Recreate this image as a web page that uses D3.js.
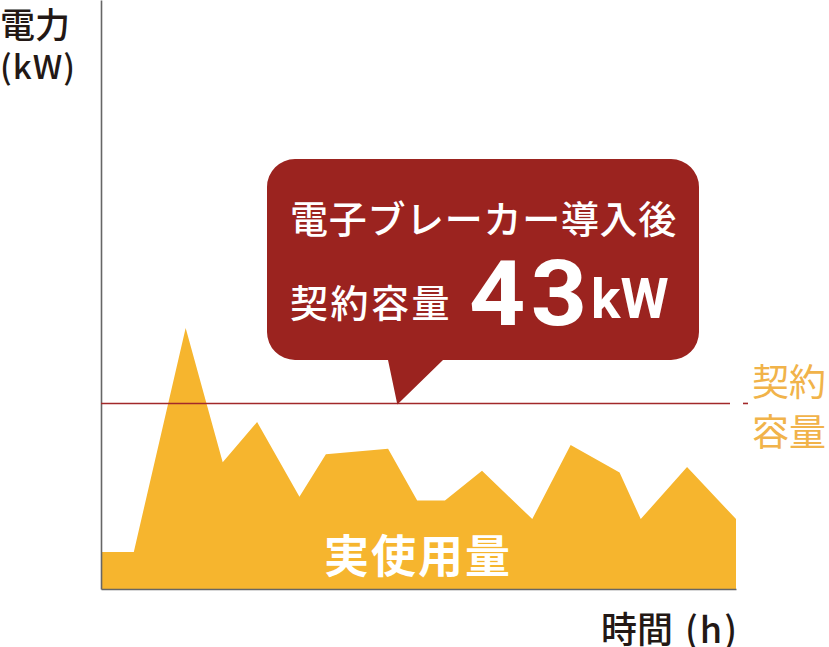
<!DOCTYPE html>
<html><head><meta charset="utf-8">
<script src="https://cdn.jsdelivr.net/npm/d3@7/dist/d3.min.js"></script>
<style>
html,body{margin:0;padding:0;background:#fff;}
svg{display:block;}
text{font-family:"Noto Sans CJK JP","Noto Sans",sans-serif;}
</style></head>
<body>
<svg id="chart" width="829" height="647"></svg>
<script>
// Data
const hours = [0, 1.24, 3.2, 4.6, 5.9, 7.5, 8.5, 10.85, 11.95, 13.0, 14.4, 16.3, 17.75, 19.6, 20.4, 22.15, 24];
const usage = [8.6, 8.6, 60.5, 29.4, 38.7, 21.4, 31.2, 32.5, 20.5, 20.5, 27.4, 16.2, 33.4, 27.0, 16.2, 28.3, 16.2];
const contract = 43;
const calloutTipHour = 11.2;
const yLabel = ["電力", "(kW)"];
const xLabel = ["時間", "(h)"];
const seriesLabel = "実使用量";
const contractLabel = ["契約", "容量"];
const calloutLine1 = "電子ブレーカー導入後";
const calloutLine2 = "契約容量";
const calloutValue = "43";
const calloutUnit = "kW";

const svg = d3.select("#chart");
const x = d3.scaleLinear().domain([0, 24]).range([101, 736]);
const y = d3.scaleLinear().domain([0, 136.5]).range([589, 0]);

const data = hours.map((h, i) => ({h, v: usage[i]}));

// area
svg.append("path")
  .datum(data)
  .attr("fill", "#F6B52E")
  .attr("d", d3.area().x(d => x(d.h)).y0(y(0)).y1(d => y(d.v)));

// axes (domain lines only)
const axisStyle = g => {
  g.select(".domain").attr("stroke", "#666").attr("stroke-width", 1.6);
  g.selectAll(".tick").remove();
};
svg.append("g").attr("transform", `translate(${x(0)},0)`)
  .call(d3.axisLeft(y).ticks(0).tickSize(0).tickSizeOuter(0)).call(axisStyle);
svg.append("g").attr("transform", `translate(0,${y(0)})`)
  .call(d3.axisBottom(x).ticks(0).tickSize(0).tickSizeOuter(0)).call(axisStyle);

// contract line
const cy = y(contract);
svg.append("line").attr("x1", x(0)).attr("x2", 730).attr("y1", cy).attr("y2", cy)
  .attr("stroke", "#A2292A").attr("stroke-width", 1.6);
svg.append("line").attr("x1", 743).attr("x2", 748).attr("y1", cy).attr("y2", cy)
  .attr("stroke", "#A2292A").attr("stroke-width", 1.6);

// callout
const bx0 = 267, bx1 = 699, by0 = 159, by1 = 360, r = 28;
const tipX = x(calloutTipHour), tipY = cy + 1;
const p = d3.path();
p.moveTo(bx0 + r, by0);
p.lineTo(bx1 - r, by0);
p.arcTo(bx1, by0, bx1, by0 + r, r);
p.lineTo(bx1, by1 - r);
p.arcTo(bx1, by1, bx1 - r, by1, r);
p.lineTo(443, by1);
p.lineTo(tipX, tipY);
p.lineTo(388, by1);
p.lineTo(bx0 + r, by1);
p.arcTo(bx0, by1, bx0, by1 - r, r);
p.lineTo(bx0, by0 + r);
p.arcTo(bx0, by0, bx0 + r, by0, r);
p.closePath();
svg.append("path").attr("d", p.toString()).attr("fill", "#9B231F");

svg.append("text").attr("x", 290).attr("y", 216).attr("dominant-baseline", "central")
  .attr("font-size", 38).attr("font-weight", 500).attr("letter-spacing", 0.7).attr("fill", "#fff").text(calloutLine1);
svg.append("text").attr("x", 290).attr("y", 300).attr("dominant-baseline", "central")
  .attr("font-size", 38).attr("font-weight", 500).attr("letter-spacing", 2.5).attr("fill", "#fff").text(calloutLine2);
svg.append("text").attr("transform", "translate(469,325) scale(1.08,1)")
  .style("font-family", "Roboto, 'Liberation Sans', sans-serif")
  .attr("font-size", 91).attr("font-weight", 700).attr("letter-spacing", 5).attr("fill", "#fff").text(calloutValue);
svg.append("text").attr("x", 591).attr("y", 318)
  .style("font-family", "Roboto, 'Liberation Sans', sans-serif")
  .attr("font-size", 55).attr("font-weight", 700).attr("fill", "#fff").text(calloutUnit);

// series label
svg.append("text").attr("x", 418).attr("y", 553).attr("dominant-baseline", "central")
  .attr("text-anchor", "middle").attr("font-size", 45).attr("font-weight", 700)
  .attr("letter-spacing", 2).attr("fill", "#fff").text(seriesLabel);

// contract label
contractLabel.forEach((t, i) => {
  svg.append("text").attr("x", 752).attr("y", 380 + i * 50).attr("dominant-baseline", "central")
    .attr("font-size", 37).attr("fill", "#F1B34A").text(t);
});

// axis labels
svg.append("text").attr("x", 0).attr("y", 22).attr("dominant-baseline", "central")
  .attr("font-size", 35).attr("font-weight", 500).attr("fill", "#231815").text(yLabel[0]);
svg.append("text").attr("x", 0).attr("y", 65).attr("dominant-baseline", "central")
  .attr("font-size", 33).attr("font-weight", 500).attr("letter-spacing", 1).attr("fill", "#231815").text(yLabel[1]);
const xl = svg.append("text").attr("x", 601).attr("y", 627).attr("dominant-baseline", "central")
  .attr("font-size", 36).attr("font-weight", 500).attr("fill", "#231815");
xl.append("tspan").text(xLabel[0]);
xl.append("tspan").attr("dx", 12).attr("letter-spacing", 2).text(xLabel[1]);
</script>
</body></html>
